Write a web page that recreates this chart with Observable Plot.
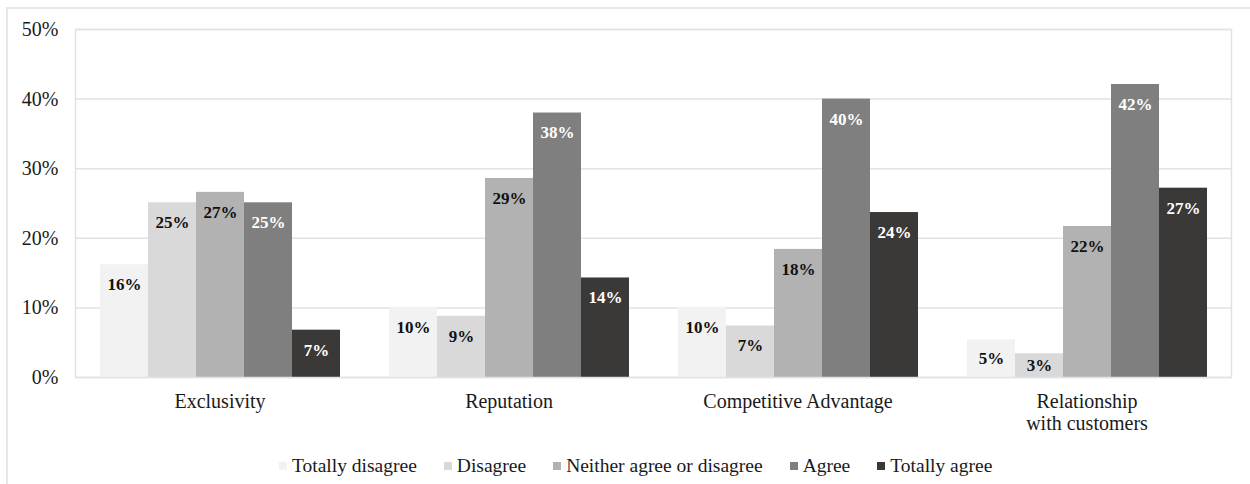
<!DOCTYPE html>
<html>
<head>
<meta charset="utf-8">
<script src="https://cdn.jsdelivr.net/npm/d3@7"></script>
<script src="https://cdn.jsdelivr.net/npm/@observablehq/plot@0.6"></script>
<style>
  html, body { margin: 0; padding: 0; background: #fff; overflow: hidden; }
  body { width: 1250px; height: 484px; position: relative; font-family: "Liberation Serif", "Times New Roman", serif; }
  #outer { position: absolute; left: 6px; top: 7px; width: 1300px; height: 600px; border: 2px solid #e4e7eb; box-sizing: border-box; }
  #chart { position: absolute; left: 0; top: 0; }
  #legend { position: absolute; left: 0; top: 449px; width: 1250px; display: flex; justify-content: flex-start; padding-left: 279px; box-sizing: border-box; }
  .lg-swatch { margin-right: 27px !important; }
  .lg-swatch > svg { margin-right: 5px !important; }
</style>
</head>
<body>
<div id="outer"></div>
<div id="chart"></div>
<div id="legend"></div>
<script>
// Survey categories and answer levels
const categories = ["Exclusivity", "Reputation", "Competitive Advantage", "Relationship\nwith customers"];
const levels = ["Totally disagree", "Disagree", "Neither agree or disagree", "Agree", "Totally agree"];
const levelColors = ["#f2f2f2", "#d9d9d9", "#b2b2b2", "#7f7f7f", "#3b3937"];
const labelColors = ["#111", "#111", "#111", "#fff", "#fff"];

// Share of respondents per level, one array per category
const exclusivity = [0.162, 0.251, 0.266, 0.251, 0.068];
const reputation = [0.101, 0.088, 0.286, 0.380, 0.143];
const competitiveAdvantage = [0.101, 0.074, 0.184, 0.400, 0.237];
const relationship = [0.054, 0.034, 0.217, 0.421, 0.272];

const yTicks = [0, 0.1, 0.2, 0.3, 0.4, 0.5];

const seriesByCategory = [exclusivity, reputation, competitiveAdvantage, relationship];
const rows = categories.flatMap((c, i) =>
  levels.map((l, j) => ({category: c, level: l, value: seriesByCategory[i][j], label: labelColors[j]}))
);

const pct = d3.format(".0%");
const font = "'Liberation Serif', 'Times New Roman', serif";

const chart = Plot.plot({
  width: 1250,
  height: 440,
  marginLeft: 73,
  marginRight: 18,
  marginTop: 29,
  marginBottom: 63,
  style: {fontFamily: font, fontSize: "20px", color: "#1a1a1a", background: "transparent"},
  fx: {domain: categories, padding: 0, label: null},
  x: {domain: levels, paddingInner: 0, paddingOuter: 0.49, axis: null},
  y: {domain: [0, 0.5], ticks: yTicks, tickFormat: pct, label: null, tickSize: 0, tickPadding: 17, grid: false},
  color: {domain: levels, range: levelColors},
  marks: [
    Plot.gridY(yTicks, {stroke: "#dfe2e7", strokeOpacity: 1, strokeWidth: 1.5}),
    Plot.barY(rows, {fx: "category", x: "level", y: "value", fill: "level", inset: 0}),
    Plot.frame({facet: "super", stroke: "#dfe2e7", strokeWidth: 1.5}),
    Plot.text(rows, {
      fx: "category",
      x: "level",
      y: d => Math.max(d.value - 0.0287, d.value / 2),
      text: d => pct(d.value),
      fill: "label",
      fontWeight: "bold",
      fontSize: 17,
      fontFamily: font
    }),
    Plot.axisFx({anchor: "bottom", tickSize: 0, tickPadding: 15, fontSize: 20, lineHeight: 1.1, label: null, fill: "#1a1a1a"})
  ]
});
document.getElementById("chart").appendChild(chart);

const legend = Plot.legend({
  color: {domain: levels, range: levelColors},
  legend: "swatches",
  swatchSize: 8,
  className: "lg",
  style: {fontFamily: font, fontSize: "19.5px", color: "#1a1a1a"}
});
document.getElementById("legend").appendChild(legend);
</script>
</body>
</html>
